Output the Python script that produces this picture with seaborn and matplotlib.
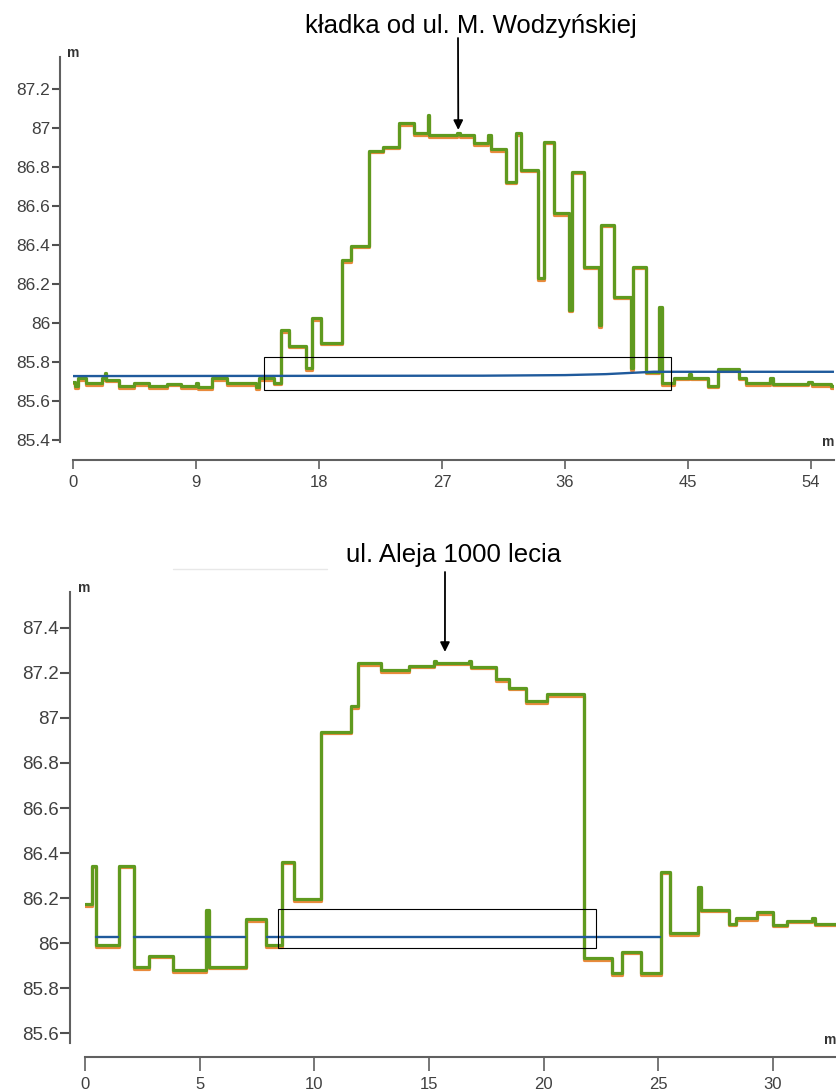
import numpy as np
import pandas as pd
import matplotlib
matplotlib.use('Agg')
import matplotlib.pyplot as plt
import matplotlib.transforms as mtransforms
from matplotlib.patches import Rectangle
from matplotlib.lines import Line2D
import seaborn as sns

# --- top profile: kładka od ul. M. Wodzyńskiej (step starts, elevation) ---
top_x = [0.0, 0.15, 0.39, 0.95, 2.15, 2.35, 2.45, 3.38, 4.48, 5.57, 6.9, 7.9, 9.0, 9.12,
         10.2, 11.3, 13.4, 13.6, 14.72, 15.2, 15.82, 17.05, 17.52, 18.14, 19.7, 20.33,
         21.67, 22.65, 23.87, 24.96, 25.95, 26.06, 28.1, 28.3, 29.35, 30.33, 30.57, 31.67,
         32.4, 32.77, 33.99, 34.47, 35.2, 36.3, 36.5, 37.4, 38.5, 38.62, 39.6, 40.82, 40.94,
         41.92, 42.9, 43.07, 43.98, 45.05, 45.25, 46.43, 47.16, 48.74, 49.23, 51.0, 51.25,
         53.8, 54.1, 55.45, 55.65]
top_green = [85.699, 85.677, 85.718, 85.69, 85.718, 85.745, 85.71, 85.677, 85.69, 85.677,
             85.688, 85.677, 85.69, 85.672, 85.718, 85.69, 85.672, 85.718, 85.695, 85.964,
             85.884, 85.768, 86.024, 85.899, 86.323, 86.396, 86.884, 86.904, 87.024, 86.973,
             87.067, 86.964, 86.975, 86.964, 86.922, 86.964, 86.891, 86.725, 86.973, 86.785,
             86.229, 86.93, 86.563, 86.067, 86.776, 86.289, 85.99, 86.503, 86.135, 85.768,
             86.289, 85.75, 86.084, 85.69, 85.72, 85.74, 85.72, 85.678, 85.762, 85.72, 85.69,
             85.718, 85.688, 85.70, 85.685, 85.675, 85.675]
top_orange = top_green  # second surface coincides with the green one
top_blue_x = [0, 30, 36, 39, 41, 42.5, 55.65]
top_blue = [85.728, 85.73, 85.733, 85.738, 85.745, 85.75, 85.75]
top_xticks = [0, 9, 18, 27, 36, 45, 54]
top_yticks = [85.4, 85.6, 85.8, 86.0, 86.2, 86.4, 86.6, 86.8, 87.0, 87.2]

# --- bottom profile: ul. Aleja 1000 lecia ---
bot_x = [0.0, 0.3, 0.5, 1.5, 2.14, 2.8, 3.82, 5.28, 5.4, 7.02, 7.88, 8.58, 9.12, 10.29,
         11.6, 11.89, 12.9, 14.14, 15.22, 15.3, 16.75, 16.83, 17.92, 18.5, 19.23, 20.17,
         21.77, 23.0, 23.44, 24.24, 25.12, 25.5, 26.75, 26.85, 28.1, 28.38, 29.33, 30.02,
         30.64, 31.72, 31.85, 32.8]
bot_green = [86.173, 86.344, 85.99, 86.344, 85.894, 85.945, 85.879, 86.148, 85.896, 86.106,
             85.99, 86.362, 86.196, 86.938, 87.052, 87.242, 87.212, 87.231, 87.253, 87.244,
             87.253, 87.227, 87.171, 87.134, 87.074, 87.105, 85.933, 85.867, 85.963, 85.867,
             86.318, 86.044, 86.248, 86.148, 86.086, 86.111, 86.137, 86.081, 86.1, 86.11,
             86.086, 86.086]
bot_orange = bot_green
bot_blue_x = [0.48, 1.45, 2.15, 6.98, 7.92, 25.1]
bot_blue = [86.029, 86.029, 86.029, 86.029, 86.029, 86.029]
bot_blue_seg = [0, 0, 1, 1, 2, 2]
bot_xticks = [0, 5, 10, 15, 20, 25, 30]
bot_yticks = [85.6, 85.8, 86.0, 86.2, 86.4, 86.6, 86.8, 87.0, 87.2, 87.4]

GREEN = '#5f9a1f'
ORANGE = '#e98a3c'
BLUE = '#1f5a9c'

sns.set_theme(style='white')
plt.rcParams['font.family'] = ['Liberation Sans', 'DejaVu Sans']

W, H = 837, 1091
fig = plt.figure(figsize=(W / 100, H / 100), dpi=100)


def px_axes(l, t, r, b):
    return fig.add_axes([l / W, 1 - b / H, (r - l) / W, (b - t) / H])


def draw_panel(ax, xs, green, orange, bx, by, bseg):
    df = pd.DataFrame({'x': xs, 'green': green, 'orange': orange})
    sns.lineplot(data=df, x='x', y='orange', ax=ax, color=ORANGE, lw=2.3,
                 drawstyle='steps-post', estimator=None, sort=False, zorder=2)
    shift = mtransforms.ScaledTranslation(0, -1.1 / 72, fig.dpi_scale_trans)
    ax.lines[-1].set_transform(ax.transData + shift)
    sns.lineplot(data=df, x='x', y='green', ax=ax, color=GREEN, lw=2.3,
                 drawstyle='steps-post', estimator=None, sort=False, zorder=3)
    bdf = pd.DataFrame({'x': bx, 'z': by, 'seg': bseg})
    sns.lineplot(data=bdf, x='x', y='z', units='seg', ax=ax, color=BLUE, lw=1.7,
                 estimator=None, sort=False, zorder=4)
    ax.set(xlabel='', ylabel='')


def style_axes(ax, xticks, yticks, xlim, ylim, left_off, bottom_off, ylen, xlen, ysize):
    ax.set_xlim(*xlim)
    ax.set_ylim(*ylim)
    ax.set_xticks(xticks)
    ax.set_xticklabels([str(t) for t in xticks])
    ax.set_yticks(yticks)
    ax.set_yticklabels(['%g' % round(t, 1) for t in yticks])
    for s in ['top', 'right']:
        ax.spines[s].set_visible(False)
    ax.spines['left'].set_position(('outward', left_off))
    ax.spines['bottom'].set_position(('outward', bottom_off))
    for s in ['left', 'bottom']:
        ax.spines[s].set_color('#606060')
        ax.spines[s].set_linewidth(1.5)
    ax.tick_params(axis='y', direction='out', length=ylen, width=1.5, color='#505050',
                   labelsize=ysize, labelcolor='#404040', pad=1, left=True)
    ax.tick_params(axis='x', direction='out', length=xlen, width=1.2, color='#606060',
                   labelsize=12, labelcolor='#404040', pad=4, bottom=True)
    ax.patch.set_alpha(0)


# top panel
ax1 = px_axes(73, 57, 834, 442)
draw_panel(ax1, top_x, top_green, top_orange, top_blue_x, top_blue, [0] * len(top_blue))
style_axes(ax1, top_xticks, top_yticks, (0, 55.68), (85.39, 87.364), 9.4, 13, 6, 6.5, 12.5)
ax1.add_patch(Rectangle((14.0, 85.656), 29.75, 0.17, fill=False, ec='black', lw=0.8, zorder=5))
ax1.annotate('', xy=(28.19, 86.99), xycoords='data', xytext=(458, H - 38),
             textcoords='figure pixels',
             arrowprops=dict(arrowstyle='-|>', color='black', lw=1.3, mutation_scale=14,
                             shrinkA=0, shrinkB=0), annotation_clip=False)

# bottom panel
ax2 = px_axes(85, 592, 837, 1043)
draw_panel(ax2, bot_x, bot_green, bot_orange, bot_blue_x, bot_blue, bot_blue_seg)
style_axes(ax2, bot_xticks, bot_yticks, (0, 32.8), (85.557, 87.559), 10.8, 10.4, 7, 10, 13.5)
ax2.add_patch(Rectangle((8.43, 85.98), 13.88, 0.172, fill=False, ec='black', lw=0.8, zorder=5))
ax2.annotate('', xy=(15.7, 87.293), xycoords='data', xytext=(445, H - 572),
             textcoords='figure pixels',
             arrowprops=dict(arrowstyle='-|>', color='black', lw=1.3, mutation_scale=14,
                             shrinkA=0, shrinkB=0), annotation_clip=False)

# titles and unit labels
fig.text(471 / W, 1 - 33 / H, 'kładka od ul. M. Wodzyńskiej', ha='center', va='baseline',
         fontsize=18.5, color='black')
fig.text(454 / W, 1 - 562 / H, 'ul. Aleja 1000 lecia', ha='center', va='baseline',
         fontsize=18.5, color='black')
for x, y in [(67, 53), (822, 442), (78, 588), (824, 1040)]:
    fig.text(x / W, 1 - y / H, 'm', ha='left', va='center', fontsize=10,
             fontweight='bold', color='#333333')

# faint separator under the second title
fig.add_artist(Line2D([173 / W, 327 / W], [1 - 569 / H, 1 - 569 / H], color='#e8e8e8', lw=1))

fig.savefig('out.png', dpi=100)
